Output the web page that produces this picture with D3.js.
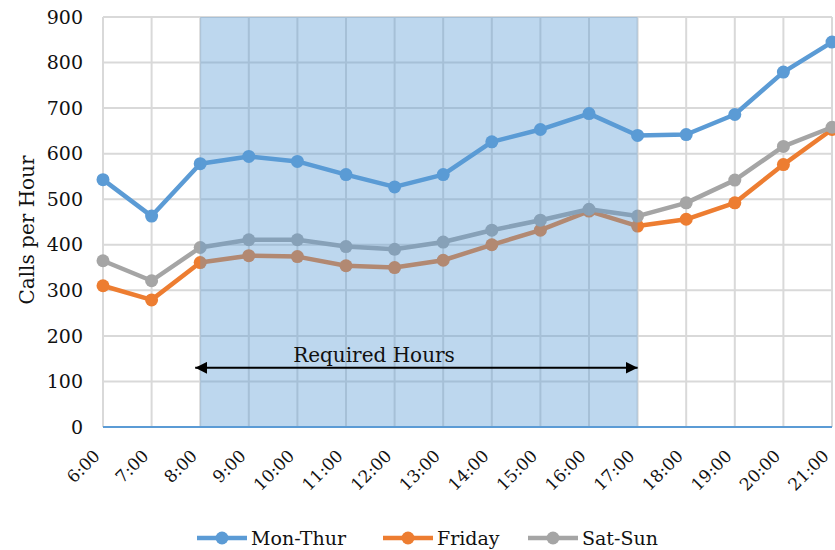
<!DOCTYPE html>
<html>
<head>
<meta charset="utf-8">
<script src="https://cdn.jsdelivr.net/npm/d3@7"></script>
<style>
body { margin: 0; background: #fff; }
text { font-family: "DejaVu Serif", "Liberation Serif", serif; fill: #111; }
</style>
</head>
<body>
<div id="chart-area"></div>
<script>
var hours = ["6:00","7:00","8:00","9:00","10:00","11:00","12:00","13:00","14:00","15:00","16:00","17:00","18:00","19:00","20:00","21:00"];
var monThur = [543, 463, 578, 594, 583, 554, 527, 554, 626, 653, 688, 640, 642, 686, 779, 845];
var friday  = [310, 279, 361, 376, 374, 354, 350, 366, 400, 432, 474, 441, 456, 492, 576, 653];
var satSun  = [365, 321, 394, 411, 411, 396, 390, 406, 432, 454, 478, 463, 492, 542, 616, 658];
var yTicks = [0, 100, 200, 300, 400, 500, 600, 700, 800, 900];
var required = ["8:00", "17:00"];

var series = [
  { name: "Mon-Thur", values: monThur, color: "#5B9BD5" },
  { name: "Friday", values: friday, color: "#ED7D31" },
  { name: "Sat-Sun", values: satSun, color: "#A5A5A5" }
];

var margin = { left: 103, right: 3, top: 17, bottom: 123 };
var width = 835 - margin.left - margin.right,
    height = 550 - margin.top - margin.bottom;

var svg = d3.select("#chart-area")
  .append("svg")
    .attr("width", 835)
    .attr("height", 550);

var g = svg.append("g")
  .attr("transform", "translate(" + margin.left + ", " + margin.top + ")");

var x = d3.scalePoint()
  .domain(hours)
  .range([0, width]);

var y = d3.scaleLinear()
  .domain([0, 900])
  .range([height, 0]);

// grid
g.selectAll(".hgrid")
  .data(yTicks)
  .enter().append("line")
    .attr("x1", 0).attr("x2", width)
    .attr("y1", function(d){ return y(d); })
    .attr("y2", function(d){ return y(d); })
    .attr("stroke", "#d9d9d9")
    .attr("stroke-width", 2);

g.selectAll(".vgrid")
  .data(hours)
  .enter().append("line")
    .attr("x1", function(d){ return x(d); })
    .attr("x2", function(d){ return x(d); })
    .attr("y1", 0).attr("y2", height)
    .attr("stroke", "#d9d9d9")
    .attr("stroke-width", 2);

// lines + markers
var line = d3.line()
  .x(function(d, i){ return x(hours[i]); })
  .y(function(d){ return y(d); });

series.forEach(function(s) {
  g.append("path")
    .attr("d", line(s.values))
    .attr("fill", "none")
    .attr("stroke", s.color)
    .attr("stroke-width", 4.5)
    .attr("stroke-linejoin", "round");
  g.selectAll(null)
    .data(s.values)
    .enter().append("circle")
      .attr("cx", function(d, i){ return x(hours[i]); })
      .attr("cy", function(d){ return y(d); })
      .attr("r", 6.5)
      .attr("fill", s.color);
});

// shaded required hours
g.append("rect")
  .attr("x", x(required[0]))
  .attr("y", y(900))
  .attr("width", x(required[1]) - x(required[0]))
  .attr("height", y(0) - y(900))
  .attr("fill", "#5B9BD5")
  .attr("fill-opacity", 0.4);

// x axis line
g.append("line")
  .attr("x1", 0).attr("x2", width)
  .attr("y1", height).attr("y2", height)
  .attr("stroke", "#5B9BD5")
  .attr("stroke-width", 2);

// y tick labels
g.selectAll(".ylab")
  .data(yTicks)
  .enter().append("text")
    .attr("x", -20)
    .attr("y", function(d){ return y(d); })
    .attr("dy", "0.35em")
    .attr("text-anchor", "end")
    .attr("font-size", "19px")
    .text(function(d){ return d; });

// x tick labels
g.selectAll(".xlab")
  .data(hours)
  .enter().append("text")
    .attr("text-anchor", "end")
    .attr("font-size", "17px")
    .attr("transform", function(d){
      return "translate(" + (x(d) - 2) + ", " + (height + 30) + ") rotate(-45)";
    })
    .text(function(d){ return d; });

// y label
svg.append("text")
  .attr("transform", "translate(34, " + (margin.top + height / 2 + 8) + ") rotate(-90)")
  .attr("text-anchor", "middle")
  .attr("font-size", "20px")
  .text("Calls per Hour");

// arrow
var defs = svg.append("defs");
defs.append("marker")
  .attr("id", "arr")
  .attr("viewBox", "0 0 10 10")
  .attr("refX", 10).attr("refY", 5)
  .attr("markerWidth", 6).attr("markerHeight", 6)
  .attr("markerUnits", "strokeWidth")
  .attr("orient", "auto-start-reverse")
  .append("path")
    .attr("d", "M0,0 L10,5 L0,10 Z")
    .attr("fill", "#000");

var arrowY = y(130);
g.append("line")
  .attr("x1", x(required[0]) - 5)
  .attr("x2", x(required[1]))
  .attr("y1", arrowY).attr("y2", arrowY)
  .attr("stroke", "#000")
  .attr("stroke-width", 2)
  .attr("marker-start", "url(#arr)")
  .attr("marker-end", "url(#arr)");

g.append("text")
  .attr("x", 374 - margin.left)
  .attr("y", arrowY - 6)
  .attr("text-anchor", "middle")
  .attr("font-size", "20px")
  .text("Required Hours");

// legend
var legendX = [197, 383, 528];
var legend = svg.selectAll(".legend")
  .data(series)
  .enter().append("g")
    .attr("transform", function(d, i){ return "translate(" + legendX[i] + ", 538)"; });

legend.append("line")
  .attr("x1", 0).attr("x2", 50)
  .attr("stroke", function(d){ return d.color; })
  .attr("stroke-width", 4.5);
legend.append("circle")
  .attr("cx", 25).attr("r", 6.5)
  .attr("fill", function(d){ return d.color; });
legend.append("text")
  .attr("x", 54)
  .attr("dy", "0.35em")
  .attr("font-size", "19px")
  .text(function(d){ return d.name; });
</script>
</body>
</html>
